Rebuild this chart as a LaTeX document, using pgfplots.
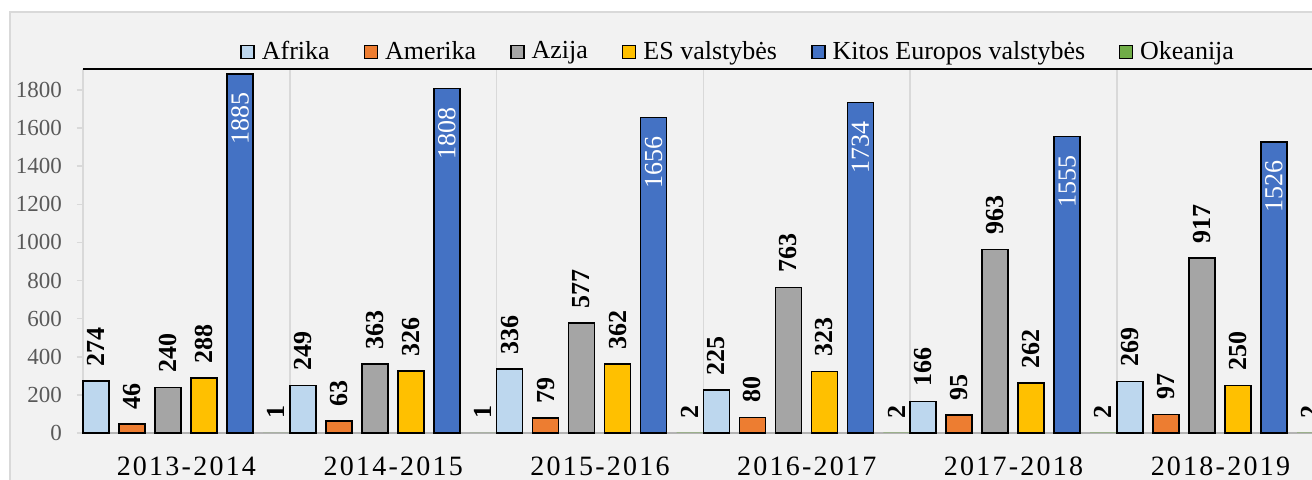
\documentclass[border=0pt]{standalone}
\usepackage{pgfplots}
\pgfplotsset{compat=1.18}
\usepackage{fontspec}
\setmainfont{Liberation Serif}
\newfontfamily\catfont[LetterSpace=8]{Liberation Serif}
\definecolor{cAfr}{HTML}{BDD7EE}
\definecolor{cAme}{HTML}{ED7D31}
\definecolor{cAzi}{HTML}{A5A5A5}
\definecolor{cES}{HTML}{FFC000}
\definecolor{cKit}{HTML}{4472C4}
\definecolor{cOke}{HTML}{70AD47}
\definecolor{bg}{HTML}{F2F2F2}
\definecolor{ln}{HTML}{D9D9D9}
\definecolor{ax}{HTML}{B3B3B3}
\definecolor{tk}{HTML}{595959}
\pgfplotsset{sq/.style={legend image code/.code={\draw[##1] (0pt,-3.25pt) rectangle (6.5pt,3.25pt);}}}
\begin{document}
\begin{tikzpicture}
\useasboundingbox (0,0) rectangle (656pt,240pt);
\clip (0,0) rectangle (656pt,240pt);
\fill[white] (0,0) rectangle (656pt,240pt);
\filldraw[fill=bg, draw=ln, line width=0.75pt] (5pt,-5pt) rectangle (670pt,234pt);
\begin{axis}[
  at={(41.5pt,23.5pt)}, anchor=south west,
  scale only axis, width=620.4pt, height=182pt,
  xmin=0, xmax=6, ymin=0, ymax=1910,
  ybar, bar width=13pt,
  axis x line*=bottom, axis y line*=left,
  x axis line style={draw=ax, line width=0.75pt, -},
  y axis line style={draw=ln, line width=0.75pt, -},
  ytick={0,200,...,1800},
  ytick align=outside,
  major tick length=3pt, minor tick length=0pt,
  ytick style={draw=ln, line width=0.75pt},
  xtick={0.5,1.5,...,5.5},
  xticklabels={2013-2014,2014-2015,2015-2016,2016-2017,2017-2018,2018-2019},
  x tick style={draw=none},
  minor xtick={1,2,3,4,5},
  xminorgrids=true, xmajorgrids=false,
  minor x grid style={draw=ln, line width=0.75pt},
  yticklabel style={font=\fontsize{11.5}{13}\selectfont, text=tk, xshift=-4pt},
  xticklabel style={font=\catfont\fontsize{14}{16}\selectfont, text=black, yshift=-5.3pt},
  /pgf/number format/assume math mode=true,
  /pgf/number format/1000 sep={},
  nodes near coords,
  every node near coord/.append style={font=\bfseries\fontsize{13}{15}\selectfont, rotate=90, anchor=west, inner xsep=7pt, inner ysep=0pt, text=black},
  legend columns=-1,
  legend style={at={(axis description cs:0.1265,1.047)}, anchor=west, draw=none, fill=none, inner sep=0pt,
    font=\fontsize{13}{15}\selectfont, nodes={inner xsep=0pt},
    /tikz/every odd column/.append style={column sep=3.5pt},
    /tikz/every even column/.append style={column sep=17pt}},
  clip=false,
]
\addplot[fill=cAfr, draw=black, line width=0.75pt, bar shift=6.5pt, sq] coordinates {(0,274) (1,249) (2,336) (3,225) (4,166) (5,269)};
\addlegendentry{Afrika}
\addplot[fill=cAme, draw=black, line width=0.75pt, bar shift=24.5pt, sq] coordinates {(0,46) (1,63) (2,79) (3,80) (4,95) (5,97)};
\addlegendentry{Amerika}
\addplot[fill=cAzi, draw=black, line width=0.75pt, bar shift=42.5pt, sq] coordinates {(0,240) (1,363) (2,577) (3,763) (4,963) (5,917)};
\addlegendentry{Azija}
\addplot[fill=cES, draw=black, line width=0.75pt, bar shift=60.5pt, sq] coordinates {(0,288) (1,326) (2,362) (3,323) (4,262) (5,250)};
\addlegendentry{ES valstybės}
\addplot[fill=cKit, draw=black, line width=0.75pt, bar shift=78.5pt, sq,
  every node near coord/.append style={anchor=east, text=white, font=\fontsize{13}{15}\selectfont, inner xsep=9pt}] coordinates {(0,1885) (1,1808) (2,1656) (3,1734) (4,1555) (5,1526)};
\addlegendentry{Kitos Europos valstybės}
\addplot[fill=cOke, draw=none, bar shift=96.5pt, sq] coordinates {(0,1) (1,1) (2,2) (3,2) (4,2) (5,2)};
\addlegendentry{Okeanija}
\draw[black, line width=0.75pt] (rel axis cs:0,1) -- (rel axis cs:1.02,1);
\end{axis}
\end{tikzpicture}
\end{document}
